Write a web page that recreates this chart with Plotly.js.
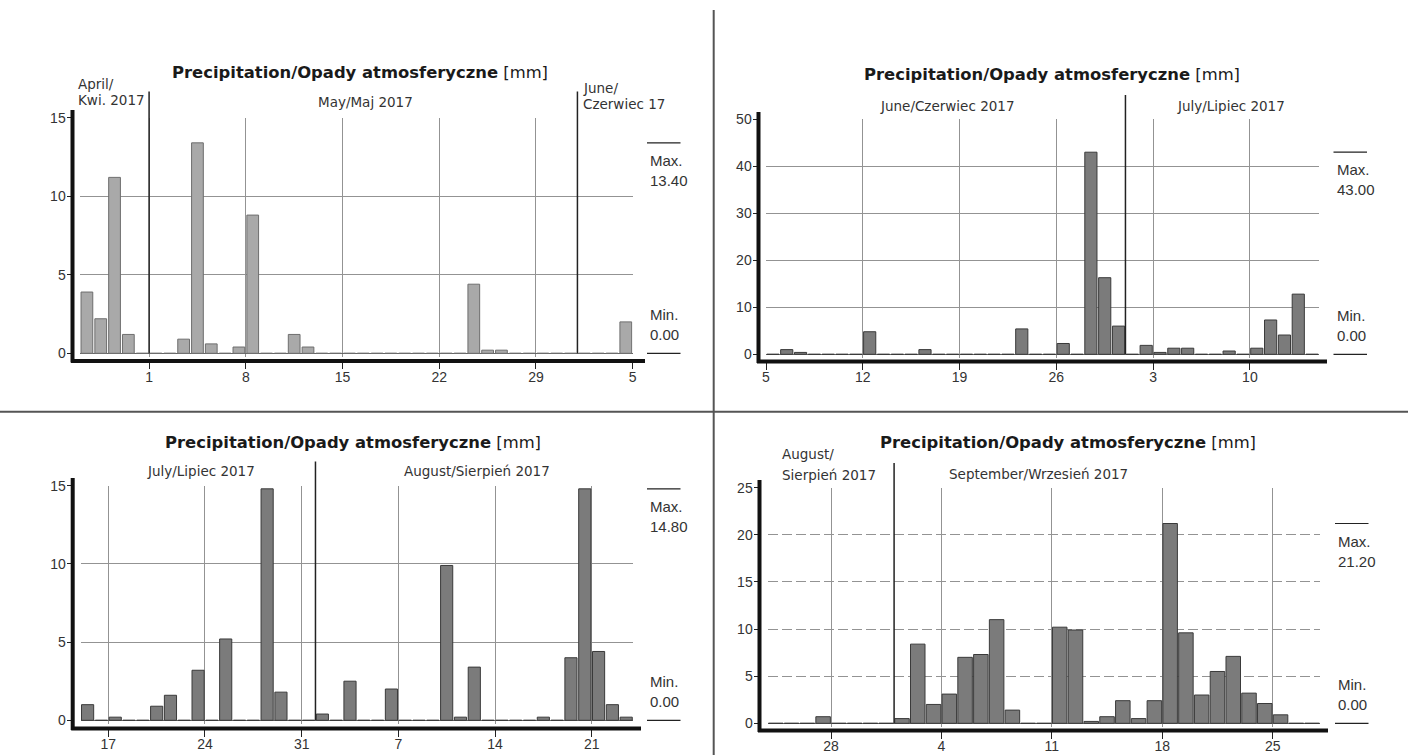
<!DOCTYPE html>
<html>
<head>
<meta charset="utf-8">
<script src="https://cdn.plot.ly/plotly-3.0.1.min.js"></script>
<style>
html,body{margin:0;padding:0;background:#fff;}
#chart{width:1408px;height:755px;}
</style>
</head>
<body>
<div id="chart"></div>
<script>
// ---------------- DATA ----------------
const chartTitle = '<b>Precipitation/Opady atmosferyczne</b> [mm]';

// Panel 1: 26 Apr 2017 – 4 Jun 2017 (daily precipitation, mm)
const p1Start = '2017-04-26';
const p1Values = [
  3.9, 2.2, 11.2, 1.2, 0,                                   // Apr 26-30
  0, 0, 0.9, 13.4, 0.6, 0, 0.4, 8.8, 0, 0, 1.2, 0.4,        // May 1-12
  0, 0, 0, 0, 0, 0, 0, 0, 0, 0, 0,                          // May 13-23
  4.4, 0.2, 0.2, 0, 0, 0, 0, 0,                             // May 24-31
  0, 0, 0, 2.0                                              // Jun 1-4
];
const p1MonthLabels = ['April/', 'Kwi. 2017', 'May/Maj 2017', 'June/', 'Czerwiec 17'];
const p1MonthStarts = ['2017-05-01', '2017-06-01'];

// Panel 2: 5 Jun 2017 – 14 Jul 2017
const p2Start = '2017-06-05';
const p2Values = [
  0, 1.0, 0.4, 0, 0, 0, 0, 4.8, 0, 0, 0, 1.0,               // Jun 5-16
  0, 0, 0, 0, 0, 0, 5.4, 0, 0, 2.3, 0, 43.0, 16.3, 6.0,     // Jun 17-30
  0, 1.9, 0.4, 1.3, 1.3, 0, 0, 0.7, 0, 1.3, 7.3, 4.1, 12.8, 0 // Jul 1-14
];
const p2MonthLabels = ['June/Czerwiec 2017', 'July/Lipiec 2017'];
const p2MonthStarts = ['2017-07-01'];

// Panel 3: 15 Jul 2017 – 23 Aug 2017
const p3Start = '2017-07-15';
const p3Values = [
  1.0, 0, 0.2, 0, 0, 0.9, 1.6, 0, 3.2, 0, 5.2, 0, 0, 14.8, 1.8, 0, 0, // Jul 15-31
  0.4, 0, 2.5, 0, 0, 2.0, 0, 0, 0, 9.9, 0.2, 3.4, 0, 0, 0, 0,         // Aug 1-16
  0.2, 0, 4.0, 14.8, 4.4, 1.0, 0.2                                    // Aug 17-23
];
const p3MonthLabels = ['July/Lipiec 2017', 'August/Sierpień 2017'];
const p3MonthStarts = ['2017-08-01'];

// Panel 4: 24 Aug 2017 – 27 Sep 2017
const p4Start = '2017-08-24';
const p4Values = [
  0, 0, 0, 0.7, 0, 0, 0, 0,                                  // Aug 24-31
  0.5, 8.4, 2.0, 3.1, 7.0, 7.3, 11.0, 1.4, 0, 0,             // Sep 1-10
  10.2, 9.9, 0.2, 0.7, 2.4, 0.5, 2.4, 21.2, 9.6, 3.0,        // Sep 11-20
  5.5, 7.1, 3.2, 2.1, 0.9, 0, 0                              // Sep 21-27
];
const p4MonthLabels = ['August/', 'Sierpień 2017', 'September/Wrzesień 2017'];
const p4MonthStarts = ['2017-09-01'];

// ---------------- HELPERS ----------------
const W = 1408, H = 755;
const DAY = 86400000;
const FONT = '"Liberation Sans", Arial, "DejaVu Sans", sans-serif';
const FONT_WIDE = '"DejaVu Sans", Verdana, sans-serif';

function dayList(start, n) {
  const t0 = Date.parse(start + 'T00:00:00Z');
  const out = [];
  for (let i = 0; i < n; i++) out.push(new Date(t0 + i * DAY).toISOString().slice(0, 10));
  return out;
}
function endDate(start, n) {
  return new Date(Date.parse(start + 'T00:00:00Z') + n * DAY).toISOString().slice(0, 10);
}
const px = v => v / W;
const py = v => 1 - v / H;

// layout geometry per panel (pixels)
const panels = [
  { start: p1Start, values: p1Values, tick0: '2017-05-01', months: p1MonthStarts,
    x0: 80, x1: 632.7, zeroPx: 353.3, topPx: 117.7, topVal: 15, minVal: -0.25, dtick: 5,
    fill: '#a9a9a9', edge: '#6e6e6e', barFrac: 0.85, dashed: false,
    yLineX: 72.5, yLineTop: 110, xLineY: 361, xLineX1: 645,
    monthLineTop: 91.5, maxX: 647, titleX: 360, titleY: 73 },
  { start: p2Start, values: p2Values, tick0: '2017-06-05', months: p2MonthStarts,
    x0: 766, x1: 1319, zeroPx: 354.3, topPx: 119.3, topVal: 50, minVal: -0.8, dtick: 10,
    fill: '#7b7b7b', edge: '#3a3a3a', barFrac: 0.88, dashed: false,
    yLineX: 758.5, yLineTop: 112, xLineY: 361.5, xLineX1: 1327,
    monthLineTop: 95, maxX: 1333.5, titleX: 1052, titleY: 75 },
  { start: p3Start, values: p3Values, tick0: '2017-07-17', months: p3MonthStarts,
    x0: 80.7, x1: 633.1, zeroPx: 720.3, topPx: 485.7, topVal: 15, minVal: -0.25, dtick: 5,
    fill: '#7b7b7b', edge: '#3a3a3a', barFrac: 0.88, dashed: false,
    yLineX: 72.7, yLineTop: 478, xLineY: 728.5, xLineX1: 641,
    monthLineTop: 461.5, maxX: 647, titleX: 353, titleY: 442 },
  { start: p4Start, values: p4Values, tick0: '2017-08-28', months: p4MonthStarts,
    x0: 767.9, x1: 1320, zeroPx: 723.3, topPx: 487.7, topVal: 25, minVal: -0.4, dtick: 5,
    fill: '#7b7b7b', edge: '#3a3a3a', barFrac: 0.92, dashed: true,
    yLineX: 759.5, yLineTop: 480, xLineY: 730.5, xLineX1: 1328,
    monthLineTop: 463, maxX: 1335, titleX: 1068, titleY: 442 }
];

const data = [];
const layout = {
  width: W, height: H,
  margin: {l: 0, r: 0, t: 0, b: 0},
  paper_bgcolor: '#ffffff', plot_bgcolor: '#ffffff',
  showlegend: false,
  font: {family: FONT, size: 14, color: '#333'},
  shapes: [], annotations: []
};

panels.forEach((p, i) => {
  const n = p.values.length;
  const xs = dayList(p.start, n);
  const xa = 'xaxis' + (i === 0 ? '' : i + 1);
  const ya = 'yaxis' + (i === 0 ? '' : i + 1);
  const xr = 'x' + (i === 0 ? '' : i + 1);
  const yr = 'y' + (i === 0 ? '' : i + 1);
  const ppu = (p.zeroPx - p.topPx) / p.topVal;
  const bottomPx = p.zeroPx - p.minVal * ppu;

  data.push({
    type: 'bar', x: xs, y: p.values, xaxis: xr, yaxis: yr,
    xperiod: DAY, xperiodalignment: 'middle', width: p.barFrac * DAY,
    marker: {color: p.fill, line: {color: p.edge, width: 1}},
    hoverinfo: 'skip'
  });

  layout[xa] = {
    type: 'date', domain: [px(p.x0), px(p.x1)],
    range: [p.start, endDate(p.start, n)],
    anchor: 'free', position: py(p.xLineY),
    tick0: p.tick0, dtick: 7 * DAY, tickformat: '%-d',
    ticks: 'outside', ticklen: 7, tickwidth: 1, tickcolor: '#222',
    ticklabelstandoff: -4,
    tickfont: {family: FONT, size: 14, color: '#333'},
    showgrid: true, gridcolor: '#939393', gridwidth: 1,
    showline: false, zeroline: false, fixedrange: true
  };
  layout[ya] = {
    domain: [py(bottomPx), py(p.topPx)],
    range: [p.minVal, p.topVal],
    anchor: 'free', position: px(p.yLineX),
    tick0: 0, dtick: p.dtick,
    ticks: 'outside', ticklen: 6, tickwidth: 1, tickcolor: '#222',
    ticklabelstandoff: -2,
    tickfont: {family: FONT, size: 14, color: '#333'},
    showgrid: true, gridcolor: '#939393', gridwidth: 1,
    griddash: p.dashed ? '10px,4px' : 'solid',
    zeroline: true, zerolinecolor: '#666', zerolinewidth: 1,
    showline: false, fixedrange: true
  };

  // thick axis lines
  layout.shapes.push({type: 'line', xref: 'paper', yref: 'paper',
    x0: px(p.yLineX), x1: px(p.yLineX), y0: py(p.yLineTop), y1: py(p.xLineY + 1.5),
    line: {color: '#111', width: 4}});
  layout.shapes.push({type: 'line', xref: 'paper', yref: 'paper',
    x0: px(p.yLineX - 1.5), x1: px(p.xLineX1), y0: py(p.xLineY), y1: py(p.xLineY),
    line: {color: '#111', width: 4}});

  // month boundary lines
  p.months.forEach(m => {
    layout.shapes.push({type: 'line', xref: xr, yref: 'paper',
      x0: m, x1: m, y0: py(p.monthLineTop), y1: py(p.zeroPx),
      line: {color: '#222', width: 1.5}});
  });

  // max / min markers
  const vmax = Math.max(...p.values);
  const vmin = Math.min(...p.values);
  [vmax, vmin].forEach(v => {
    layout.shapes.push({type: 'line', xref: 'paper', yref: yr,
      x0: px(p.maxX), x1: px(p.maxX + 33.5), y0: v, y1: v,
      line: {color: '#222', width: 1.2}});
  });
  layout.annotations.push({xref: 'paper', yref: yr, x: px(p.maxX + 1), y: vmax,
    xanchor: 'left', yanchor: 'top', yshift: -7, align: 'left', showarrow: false,
    text: 'Max.<br>' + vmax.toFixed(2), font: {family: FONT, size: 15, color: '#333'}});
  layout.annotations.push({xref: 'paper', yref: yr, x: px(p.maxX + 1), y: vmin,
    xanchor: 'left', yanchor: 'bottom', yshift: 8, align: 'left', showarrow: false,
    text: 'Min.<br>' + vmin.toFixed(2), font: {family: FONT, size: 15, color: '#333'}});

  // panel title
  layout.annotations.push({xref: 'paper', yref: 'paper', x: px(p.titleX), y: py(p.titleY),
    xanchor: 'center', yanchor: 'middle', showarrow: false, text: chartTitle,
    font: {family: FONT_WIDE, size: 16.4, color: '#1a1a1a'}});
});

// month label annotations
function monthLabel(text, xPx, yPx, anchor) {
  layout.annotations.push({xref: 'paper', yref: 'paper', x: px(xPx), y: py(yPx),
    xanchor: anchor, yanchor: 'middle', showarrow: false, text: text,
    font: {family: FONT_WIDE, size: 13.5, color: '#333'}});
}
monthLabel(p1MonthLabels[0], 76, 84, 'left');
monthLabel(p1MonthLabels[1], 76, 100, 'left');
monthLabel(p1MonthLabels[2], 365, 102, 'center');
monthLabel(p1MonthLabels[3], 581, 88, 'left');
monthLabel(p1MonthLabels[4], 581, 104, 'left');
monthLabel(p2MonthLabels[0], 947, 106, 'center');
monthLabel(p2MonthLabels[1], 1231, 106, 'center');
monthLabel(p3MonthLabels[0], 201, 471, 'center');
monthLabel(p3MonthLabels[1], 477, 471, 'center');
monthLabel(p4MonthLabels[0], 780, 454, 'left');
monthLabel(p4MonthLabels[1], 780, 475, 'left');
monthLabel(p4MonthLabels[2], 1038, 474, 'center');

// panel dividers
layout.shapes.push({type: 'line', xref: 'paper', yref: 'paper',
  x0: px(713.7), x1: px(713.7), y0: py(10), y1: 0, line: {color: '#555', width: 2}});
layout.shapes.push({type: 'line', xref: 'paper', yref: 'paper',
  x0: 0, x1: 1, y0: py(411.7), y1: py(411.7), line: {color: '#555', width: 2}});

Plotly.newPlot('chart', data, layout, {staticPlot: true, displayModeBar: false});
</script>
</body>
</html>
